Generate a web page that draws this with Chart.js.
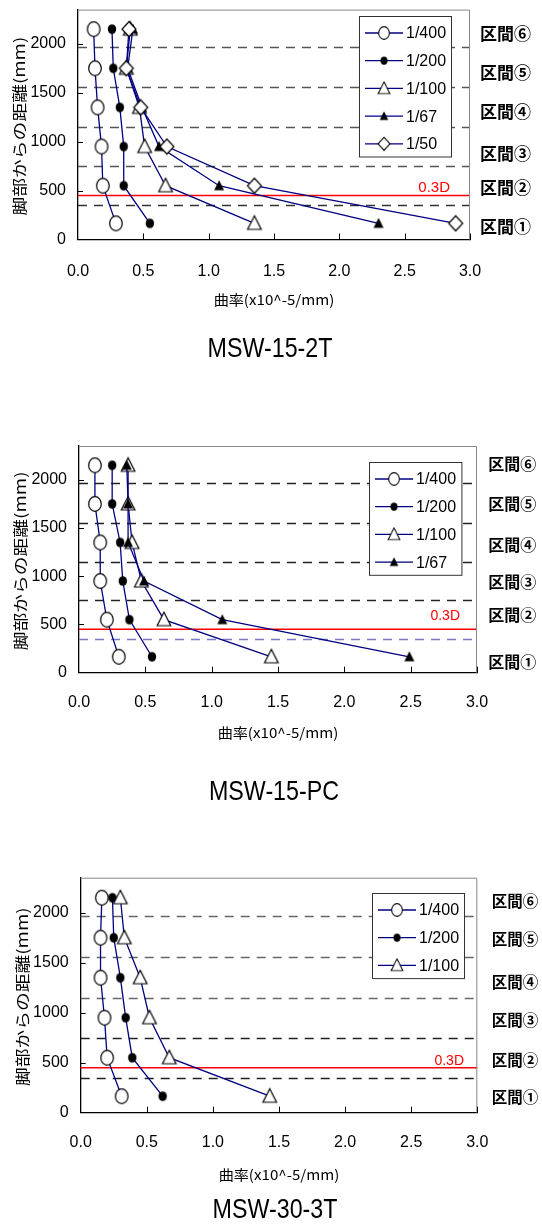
<!DOCTYPE html>
<html>
<head>
<meta charset="utf-8">
<script src="https://cdn.jsdelivr.net/npm/chart.js@4.4.1/dist/chart.umd.min.js"></script>
<style>
html, body { margin: 0; padding: 0; background: #fff; }
#wrap { position: relative; width: 542px; height: 1225px; }
canvas { position: absolute; left: 0; }
</style>
</head>
<body>
<div id="wrap">
  <canvas id="c1" width="542" height="400" style="top:0px"></canvas>
  <canvas id="c2" width="542" height="420" style="top:400px"></canvas>
  <canvas id="c3" width="542" height="385" style="top:840px"></canvas>
</div>
<script>
// distance from the wall base (mm), one point per section
const heights = [165, 550, 950, 1350, 1750, 2150];
const xTicks = [0, 0.5, 1.0, 1.5, 2.0, 2.5, 3.0];
const yTicks = [0, 500, 1000, 1500, 2000];
const sectionBounds = [350, 750, 1150, 1555, 1965];
const line03D = 450;
const sectionNames = ['区間①', '区間②', '区間③', '区間④', '区間⑤', '区間⑥'];
const driftLabels = ['1/400', '1/200', '1/100', '1/67', '1/50'];

// MSW-15-2T curvature (x10^-5/mm)
const k2T_400 = [0.29, 0.19, 0.18, 0.15, 0.13, 0.12];
const k2T_200 = [0.55, 0.35, 0.35, 0.32, 0.27, 0.26];
const k2T_100 = [1.35, 0.67, 0.51, 0.47, 0.37, 0.40];
const k2T_67 = [2.30, 1.08, 0.62, 0.49, 0.38, 0.42];
const k2T_50 = [2.89, 1.35, 0.68, 0.48, 0.37, 0.39];

// MSW-15-PC
const kPC_400 = [0.30, 0.21, 0.16, 0.16, 0.12, 0.12];
const kPC_200 = [0.55, 0.38, 0.33, 0.31, 0.25, 0.25];
const kPC_100 = [1.45, 0.64, 0.47, 0.40, 0.37, 0.37];
const kPC_67 = [2.49, 1.08, 0.49, 0.37, 0.37, 0.36];

// MSW-30-3T
const k3T_400 = [0.31, 0.20, 0.18, 0.15, 0.15, 0.16];
const k3T_200 = [0.62, 0.39, 0.34, 0.30, 0.25, 0.24];
const k3T_100 = [1.43, 0.67, 0.52, 0.45, 0.33, 0.30];

const lineColor = '#000080';
const cjk = '"Noto Sans CJK JP", sans-serif';
const latin = '"Liberation Sans", Arial, sans-serif';

// per chart layout (plot box inside each canvas, label offsets)
const layouts = {
    c1: {
        canvasH: 400, top: 9.5, bottom: 239.5, left: 78, right: 470,
        tickY: 32, xTitleY: 60.5, titleY: 109.5, yTitleX: 19.7, title: 'MSW-15-2T',
        boundColors: ['#333', '#555', '#555', '#555', '#555'],
        sectionY: [131, 529, 881, 1306, 1704, 2107], sectionDx: 10, sectionFont: 17,
        labelD: { dx: 20, dy: -8, size: 15 },
        legend: { dx: 19, dy: 6.5, w: 92 }
    },
    c2: {
        canvasH: 420, top: 46, bottom: 272.7, left: 79, right: 477,
        tickY: 30.3, xTitleY: 60.3, titleY: 119.3, yTitleX: 20, title: 'MSW-15-PC',
        boundColors: ['#7a7ac8', '#222', '#222', '#222', '#222'],
        sectionY: [114, 598, 943, 1323, 1748, 2163], sectionDx: 11.3, sectionFont: 16,
        labelD: { dx: 17, dy: -13, size: 14 },
        legend: { dx: 15.3, dy: 16.3, w: 92.4 }
    },
    c3: {
        canvasH: 385, top: 37.7, bottom: 272.7, left: 80.7, right: 477.3,
        tickY: 30.3, xTitleY: 62.3, titleY: 97.3, yTitleX: 22.5, title: 'MSW-30-3T',
        boundColors: ['#222', '#222', '#666', '#666', '#666'],
        sectionY: [160, 527, 927, 1310, 1734, 2120], sectionDx: 14.4, sectionFont: 15.5,
        labelD: { dx: 13.3, dy: -6.6, size: 14 },
        legend: { dx: 13, dy: 15, w: 92 }
    }
};

function makeMarker(kind) {
    const c = document.createElement('canvas');
    c.width = 18;
    c.height = 18;
    const g = c.getContext('2d');
    const cx = 9, cy = 9;
    let open = true;
    g.beginPath();
    if (kind === 'circle') {
        g.ellipse(cx, cy, 6.3, 7.3, 0, 0, Math.PI * 2);
    } else if (kind === 'dot') {
        g.ellipse(cx, cy, 4.2, 4.8, 0, 0, Math.PI * 2);
        open = false;
    } else if (kind === 'tri') {
        g.moveTo(cx, cy - 7.5);
        g.lineTo(cx + 6.8, cy + 6);
        g.lineTo(cx - 6.8, cy + 6);
        g.closePath();
    } else if (kind === 'solidTri') {
        g.moveTo(cx, cy - 5.5);
        g.lineTo(cx + 5, cy + 4.5);
        g.lineTo(cx - 5, cy + 4.5);
        g.closePath();
        open = false;
    } else {
        g.moveTo(cx, cy - 7.5);
        g.lineTo(cx + 7, cy);
        g.lineTo(cx, cy + 7.5);
        g.lineTo(cx - 7, cy);
        g.closePath();
    }
    if (open) {
        g.fillStyle = '#fff';
        g.fill();
        g.lineWidth = 1.2;
        g.strokeStyle = '#000';
        g.stroke();
    } else {
        g.fillStyle = '#000';
        g.fill();
    }
    return c;
}

const markers = [makeMarker('circle'), makeMarker('dot'), makeMarker('tri'), makeMarker('solidTri'), makeMarker('diamond')];

function series(values, i) {
    return {
        label: driftLabels[i],
        data: heights.map((h, j) => ({ x: values[j], y: h })),
        showLine: true,
        borderColor: lineColor,
        borderWidth: 1.3,
        pointStyle: markers[i],
        pointRadius: 7,
        pointHoverRadius: 7,
        order: -i
    };
}

const decor = {
    id: 'decor',
    beforeDatasetsDraw(chart) {
        const L = layouts[chart.canvas.id];
        const { ctx, chartArea: a } = chart;
        const y = chart.scales.y;
        ctx.save();
        ctx.lineWidth = 1.3;
        ctx.setLineDash([9, 7]);
        sectionBounds.forEach((v, i) => {
            const py = Math.round(y.getPixelForValue(v)) + 0.5;
            ctx.strokeStyle = L.boundColors[i];
            ctx.beginPath();
            ctx.moveTo(a.left, py);
            ctx.lineTo(a.right, py);
            ctx.stroke();
        });
        ctx.setLineDash([]);
        ctx.strokeStyle = '#ff0000';
        ctx.lineWidth = 1.6;
        const ry = y.getPixelForValue(line03D);
        ctx.beginPath();
        ctx.moveTo(a.left, ry);
        ctx.lineTo(a.right, ry);
        ctx.stroke();
        ctx.restore();
    },
    afterDraw(chart) {
        const L = layouts[chart.canvas.id];
        const { ctx, chartArea: a } = chart;
        const x = chart.scales.x, y = chart.scales.y;
        ctx.save();

        // top and right frame
        ctx.strokeStyle = '#888';
        ctx.lineWidth = 1;
        ctx.beginPath();
        ctx.moveTo(a.left, a.top + 0.5);
        ctx.lineTo(a.right - 0.5, a.top + 0.5);
        ctx.lineTo(a.right - 0.5, a.bottom);
        ctx.stroke();

        // inner tick marks
        ctx.strokeStyle = '#000';
        ctx.beginPath();
        yTicks.slice(1).forEach(v => {
            const py = Math.round(y.getPixelForValue(v)) + 0.5;
            ctx.moveTo(a.left, py);
            ctx.lineTo(a.left + 5, py);
        });
        xTicks.slice(1).forEach(v => {
            const px = Math.round(x.getPixelForValue(v)) + 0.5;
            ctx.moveTo(px, a.bottom);
            ctx.lineTo(px, a.bottom - 6);
        });
        ctx.stroke();

        // legend box
        const ds = chart.data.datasets;
        const rowH = 27.7;
        const w = L.legend.w, h = ds.length * rowH + 2;
        const bx = Math.round(a.right - L.legend.dx - w), by = Math.round(a.top + L.legend.dy);
        ctx.fillStyle = '#fff';
        ctx.fillRect(bx, by, w, h);
        ctx.strokeStyle = '#333';
        ctx.lineWidth = 1;
        ctx.strokeRect(bx + 0.5, by + 0.5, w, h);
        ds.forEach((d, i) => {
            const cy = by + 17 + i * rowH;
            ctx.strokeStyle = lineColor;
            ctx.lineWidth = 1.3;
            ctx.beginPath();
            ctx.moveTo(bx + 6, cy);
            ctx.lineTo(bx + 44, cy);
            ctx.stroke();
            const m = d.pointStyle;
            ctx.drawImage(m, bx + 25 - m.width * 0.43, cy - m.height * 0.43, m.width * 0.86, m.height * 0.86);
            ctx.fillStyle = '#000';
            ctx.font = '16px ' + latin;
            ctx.textAlign = 'left';
            ctx.textBaseline = 'middle';
            ctx.fillText(d.label, bx + 47, cy + 1);
        });

        // section names on the right
        ctx.fillStyle = '#000';
        ctx.font = 'bold ' + L.sectionFont + 'px ' + cjk;
        ctx.textAlign = 'left';
        ctx.textBaseline = 'middle';
        sectionNames.forEach((s, i) => {
            ctx.fillText(s, a.right + L.sectionDx, y.getPixelForValue(L.sectionY[i]));
        });

        // 0.3D label
        ctx.fillStyle = '#ff0000';
        ctx.font = L.labelD.size + 'px ' + latin;
        ctx.textAlign = 'right';
        ctx.fillText('0.3D', a.right - L.labelD.dx, y.getPixelForValue(line03D) + L.labelD.dy);

        // axis titles
        const midX = (a.left + a.right) / 2;
        ctx.fillStyle = '#000';
        ctx.font = '14px ' + cjk;
        ctx.textAlign = 'center';
        ctx.save();
        ctx.translate(midX, a.bottom + L.xTitleY);
        ctx.scale(1.08, 1);
        ctx.fillText('曲率(x10^-5/mm)', 0, 0);
        ctx.restore();

        ctx.save();
        ctx.translate(L.yTitleX, (a.top + a.bottom) / 2 + 1.5);
        ctx.rotate(-Math.PI / 2);
        ctx.scale(1.25, 1);
        ctx.font = '15px ' + cjk;
        ctx.fillText('脚部からの距離(mm)', 0, 0);
        ctx.restore();

        // specimen name
        ctx.save();
        ctx.translate(midX - 4, a.bottom + L.titleY);
        ctx.scale(0.83, 1);
        ctx.font = '28px ' + latin;
        ctx.fillText(L.title, 0, 0);
        ctx.restore();

        ctx.restore();
    }
};

function buildChart(id, lists) {
    const L = layouts[id];
    return new Chart(document.getElementById(id), {
        type: 'scatter',
        data: { datasets: lists.map((v, i) => series(v, i)) },
        options: {
            responsive: false,
            animation: false,
            events: [],
            layout: {
                padding: { left: 0, top: L.top, right: 542 - L.right, bottom: L.canvasH - L.bottom - 40 }
            },
            plugins: { legend: { display: false }, tooltip: { enabled: false } },
            scales: {
                x: {
                    type: 'linear',
                    min: 0,
                    max: 3,
                    afterBuildTicks: s => { s.ticks = xTicks.map(v => ({ value: v })); },
                    afterFit: s => { s.height = 40; },
                    grid: { display: false, drawTicks: true, tickLength: L.tickY - 9.6 },
                    border: { display: true, color: '#000', width: 1.3 },
                    ticks: {
                        padding: 0,
                        color: '#000',
                        font: { family: latin, size: 16 },
                        maxRotation: 0,
                        autoSkip: false,
                        callback: v => Number(v).toFixed(1)
                    }
                },
                y: {
                    type: 'linear',
                    min: 0,
                    max: 2350,
                    afterBuildTicks: s => { s.ticks = yTicks.map(v => ({ value: v })); },
                    afterFit: s => { s.width = L.left; },
                    grid: { display: false, drawTicks: true, tickLength: 12 },
                    border: { display: true, color: '#000', width: 1.3 },
                    ticks: {
                        padding: 0,
                        color: '#000',
                        font: { family: latin, size: 16 },
                        callback: v => String(v)
                    }
                }
            }
        },
        plugins: [decor]
    });
}

buildChart('c1', [k2T_400, k2T_200, k2T_100, k2T_67, k2T_50]);
buildChart('c2', [kPC_400, kPC_200, kPC_100, kPC_67]);
buildChart('c3', [k3T_400, k3T_200, k3T_100]);
</script>
</body>
</html>
